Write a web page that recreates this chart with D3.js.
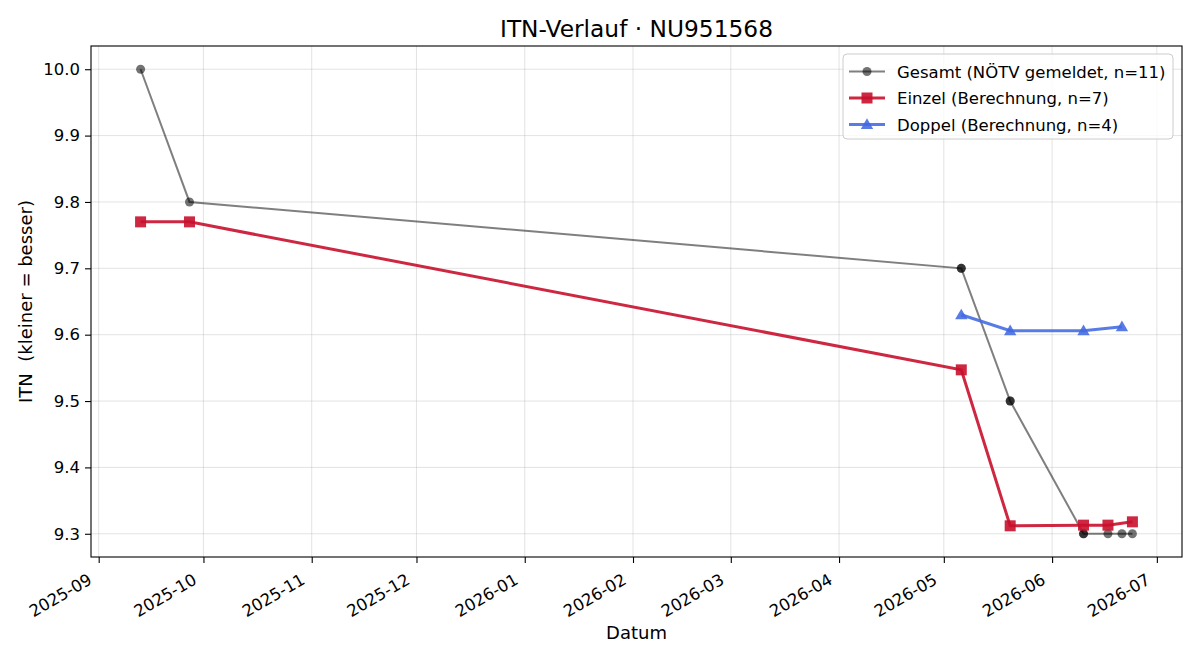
<!DOCTYPE html>
<html lang="de">
<head>
<meta charset="UTF-8">
<title>ITN-Verlauf</title>
<script src="https://cdn.jsdelivr.net/npm/d3@7"></script>
<style>
    body{margin:0;background:#fff;}
    svg text{font-family:"DejaVu Sans",sans-serif;fill:#000;}
    .grid line{stroke:#b0b0b0;stroke-opacity:0.35;stroke-width:1;}
    .axis path{stroke:#000;}
    .axis line{stroke:#000;stroke-width:1.1;}
    .axis text{font-size:16.5px;}
    .ylab{white-space:pre;}
</style>
</head>
<body>
<script>
    // Gesamt (NÖTV gemeldet)
    var gesamtDates = ["2025-09-13","2025-09-27","2026-05-06","2026-05-06","2026-05-20","2026-05-20","2026-06-10","2026-06-10","2026-06-17","2026-06-21","2026-06-24"];
    var gesamtValues = [10.0,9.8,9.7,9.7,9.5,9.5,9.3,9.3,9.3,9.3,9.3];
    // Einzel (Berechnung)
    var einzelDates = ["2025-09-13","2025-09-27","2026-05-06","2026-05-20","2026-06-10","2026-06-17","2026-06-24"];
    var einzelValues = [9.770,9.770,9.547,9.312,9.313,9.313,9.318];
    // Doppel (Berechnung)
    var doppelDates = ["2026-05-06","2026-05-20","2026-06-10","2026-06-21"];
    var doppelValues = [9.630,9.606,9.606,9.612];
    var yTicks = [9.3,9.4,9.5,9.6,9.7,9.8,9.9,10.0];

    var width = 1200, height = 660;
    var margin = {top:46,right:18,bottom:103,left:91};
    var w = width - margin.left - margin.right;
    var h = height - margin.top - margin.bottom;
    var parse = d3.timeParse("%Y-%m-%d");

    function zip(ds, vs){
        return ds.map(function(d,i){ return {date:parse(d), value:vs[i]}; });
    }
    var gesamt = zip(gesamtDates, gesamtValues);
    var einzel = zip(einzelDates, einzelValues);
    var doppel = zip(doppelDates, doppelValues);

    // 5% Rand wie matplotlib
    var all = gesamt.concat(einzel, doppel);
    var xExt = d3.extent(all, function(d){return d.date;});
    var yExt = d3.extent(all, function(d){return d.value;});
    var xPad = (xExt[1] - xExt[0]) * 0.05;
    var yPad = (yExt[1] - yExt[0]) * 0.05;

    var x = d3.scaleTime()
        .domain([new Date(+xExt[0] - xPad), new Date(+xExt[1] + xPad)])
        .range([0, w]);
    var y = d3.scaleLinear()
        .domain([yExt[0] - yPad, yExt[1] + yPad])
        .range([h, 0]);

    var svg = d3.select("body").append("svg")
        .attr("width", width).attr("height", height);
    var g = svg.append("g").attr("transform","translate(" + margin.left + "," + margin.top + ")");

    var xTicks = x.ticks(d3.timeMonth.every(1));

    // Gitter
    g.append("g").attr("class","grid")
        .selectAll("line").data(xTicks).enter().append("line")
        .attr("x1", function(d){return x(d);}).attr("x2", function(d){return x(d);})
        .attr("y1", 0).attr("y2", h);
    g.append("g").attr("class","grid")
        .selectAll("line").data(yTicks).enter().append("line")
        .attr("x1", 0).attr("x2", w)
        .attr("y1", function(d){return y(d);}).attr("y2", function(d){return y(d);});

    // Achsen
    var xAxis = g.append("g").attr("class","axis")
        .attr("transform","translate(0," + h + ")")
        .call(d3.axisBottom(x).tickValues(xTicks).tickFormat(d3.timeFormat("%Y-%m")).tickSizeOuter(0).tickSize(6));
    xAxis.selectAll("text")
        .attr("text-anchor","end")
        .attr("x", 0).attr("y", 0)
        .attr("dx", null).attr("dy", null)
        .attr("transform", "translate(-6,26) rotate(-30)");
    xAxis.select(".domain").remove();

    var yAxis = g.append("g").attr("class","axis")
        .call(d3.axisLeft(y).tickValues(yTicks).tickFormat(d3.format(".1f")).tickSizeOuter(0).tickSize(6));
    yAxis.select(".domain").remove();
    yAxis.selectAll("text").attr("x", -11);

    g.append("rect").attr("width", w).attr("height", h)
        .attr("fill","none").attr("stroke","#000").attr("stroke-width",1.1);

    var line = d3.line()
        .x(function(d){return x(d.date);})
        .y(function(d){return y(d.value);});

    // Gesamt
    g.append("path").attr("d", line(gesamt))
        .attr("fill","none").attr("stroke","#000").attr("stroke-opacity",0.5).attr("stroke-width",2);
    g.selectAll(".pt-g").data(gesamt).enter().append("circle")
        .attr("class","pt-g")
        .attr("cx", function(d){return x(d.date);})
        .attr("cy", function(d){return y(d.value);})
        .attr("r", 4.5)
        .attr("fill","#000").attr("fill-opacity",0.55);

    // Einzel
    var red = "#c8102e";
    g.append("path").attr("d", line(einzel))
        .attr("fill","none").attr("stroke",red).attr("stroke-opacity",0.9).attr("stroke-width",3);
    g.selectAll(".pt-e").data(einzel).enter().append("rect")
        .attr("class","pt-e")
        .attr("x", function(d){return x(d.date) - 5.5;})
        .attr("y", function(d){return y(d.value) - 5.5;})
        .attr("width", 11).attr("height", 11)
        .attr("fill",red).attr("fill-opacity",0.9);

    // Doppel
    var blue = "#4169e1";
    var tri = d3.symbol().type(d3.symbolTriangle).size(66);
    g.append("path").attr("d", line(doppel))
        .attr("fill","none").attr("stroke",blue).attr("stroke-opacity",0.88).attr("stroke-width",3);
    g.selectAll(".pt-d").data(doppel).enter().append("path")
        .attr("class","pt-d")
        .attr("d", tri)
        .attr("transform", function(d){return "translate(" + x(d.date) + "," + (y(d.value) + 1) + ")";})
        .attr("fill",blue).attr("fill-opacity",0.88);

    // Titel und Beschriftungen
    svg.append("text").attr("x", margin.left + w/2).attr("y", 36.5)
        .attr("text-anchor","middle").style("font-size","23.3px")
        .text("ITN-Verlauf · NU951568");
    svg.append("text").attr("x", margin.left + w/2).attr("y", 639)
        .attr("text-anchor","middle").style("font-size","18px")
        .text("Datum");
    svg.append("text").attr("class","ylab")
        .attr("transform","translate(32," + (margin.top + h/2) + ") rotate(-90)")
        .attr("text-anchor","middle").style("font-size","18px")
        .text("ITN  (kleiner = besser)");

    // Legende
    var legendItems = [
        {label:"Gesamt (NÖTV gemeldet, n=11)", color:"#000", op:0.5, lw:2, mark:"circle"},
        {label:"Einzel (Berechnung, n=7)", color:red, op:0.9, lw:3, mark:"square"},
        {label:"Doppel (Berechnung, n=4)", color:blue, op:0.88, lw:3, mark:"triangle"}
    ];
    var lg = svg.append("g").attr("transform","translate(843,54)");
    lg.append("rect").attr("width",330).attr("height",85).attr("rx",4)
        .attr("fill","#fff").attr("fill-opacity",0.8).attr("stroke","#ccc");
    legendItems.forEach(function(it, i){
        var cy = 17.5 + i*26.5;
        lg.append("line").attr("x1",6).attr("x2",42).attr("y1",cy).attr("y2",cy)
            .attr("stroke",it.color).attr("stroke-opacity",it.op).attr("stroke-width",it.lw);
        if(it.mark === "circle"){
            lg.append("circle").attr("cx",24).attr("cy",cy).attr("r",4.5)
                .attr("fill","#000").attr("fill-opacity",0.55);
        } else if(it.mark === "square"){
            lg.append("rect").attr("x",18.5).attr("y",cy-5.5).attr("width",11).attr("height",11)
                .attr("fill",it.color).attr("fill-opacity",it.op);
        } else {
            lg.append("path").attr("d",tri).attr("transform","translate(24," + (cy+1) + ")")
                .attr("fill",it.color).attr("fill-opacity",it.op);
        }
        lg.append("text").attr("x",54).attr("y",cy+6).style("font-size","16.5px").text(it.label);
    });
</script>
</body>
</html>
